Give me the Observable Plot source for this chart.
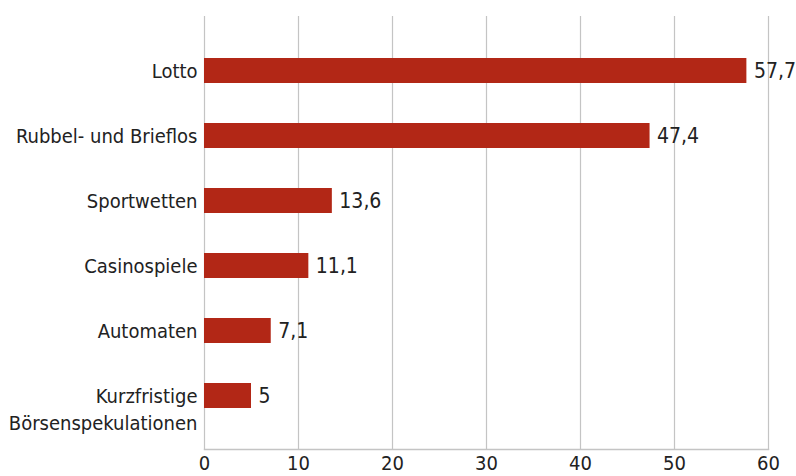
<!DOCTYPE html>
<html>
<head>
<meta charset="utf-8">
<script src="https://cdn.jsdelivr.net/npm/d3@7"></script>
<script src="https://cdn.jsdelivr.net/npm/@observablehq/plot@0.6"></script>
<style>
  html, body { margin: 0; padding: 0; background: #fff; }
  #chart svg { display: block; }
</style>
</head>
<body>
<div id="chart"></div>
<script>
const categories = ["Lotto", "Rubbel- und Brieflos", "Sportwetten", "Casinospiele", "Automaten", "Kurzfristige\nBörsenspekulationen"];
const values = [57.7, 47.4, 13.6, 11.1, 7.1, 5];
const xTicks = [0, 10, 20, 30, 40, 50, 60];

const data = categories.map((c, i) => ({category: c, value: values[i]}));
const fmt = v => String(v).replace(".", ",");
const font = "'Liberation Sans Narrow', 'DejaVu Sans Condensed', sans-serif";

const chart = Plot.plot({
  width: 796,
  height: 476,
  marginTop: 16,
  marginBottom: 27,
  marginLeft: 204,
  marginRight: 28,
  style: {fontFamily: font, fontSize: "20px", color: "#222", background: "#fff"},
  x: {domain: [0, 60], ticks: xTicks, label: null, tickSize: 0, tickPadding: 6, tickFormat: d => String(d)},
  y: {domain: categories, range: [37, 428], paddingInner: 0.617, paddingOuter: 0.3085, axis: null},
  marks: [
    Plot.ruleX(xTicks, {stroke: "#c4c4c4", strokeWidth: 1.2}),
    Plot.frame({anchor: "bottom", stroke: "#c4c4c4", strokeWidth: 1.5}),
    Plot.barX(data, {x: "value", y: "category", fill: "#b22716"}),
    Plot.text(data, {x: "value", y: "category", text: d => fmt(d.value), textAnchor: "start", dx: 7, fill: "#222", fontSize: 21}),
    Plot.text(data, {x: 0, y: "category", text: "category", textAnchor: "end", dx: -7, lineAnchor: "top", dy: -12, lineHeight: 1.35, fill: "#222", fontSize: 20})
  ]
});
document.getElementById("chart").append(chart);
</script>
</body>
</html>
